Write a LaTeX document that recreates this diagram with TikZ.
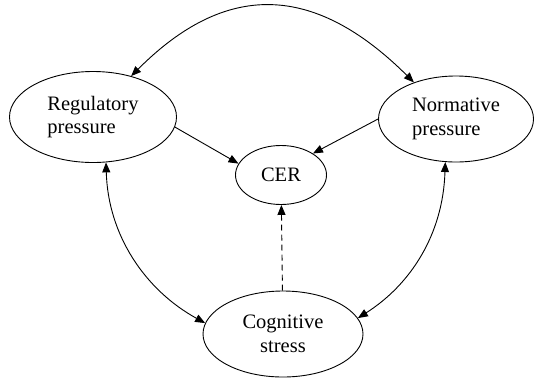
\documentclass[tikz,border=0pt]{standalone}
\usepackage{fontspec}
\setmainfont{Liberation Serif}
\usetikzlibrary{shapes.geometric,arrows.meta}

\begin{document}
\begin{tikzpicture}[x=1pt, y=1pt,
  oval/.style={ellipse, draw, line width=0.9pt, inner sep=0pt, font=\fontsize{20.5}{23.5}\selectfont},
  link/.style={line width=0.9pt, -{Triangle[length=10pt,width=8pt]}},
  mutual/.style={line width=0.9pt, {Triangle[length=10pt,width=8pt]}-{Triangle[length=10pt,width=8pt]}}]
  \useasboundingbox (0,0) rectangle (534,-378);
  \node[oval, minimum width=167pt, minimum height=91pt, align=left] (R) at (93,-117) {Regulatory\\pressure};
  \node[oval, minimum width=155pt, minimum height=86pt, align=left] (N) at (456,-119) {Normative\\pressure};
  \node[oval, minimum width=91pt, minimum height=59pt] (C) at (281,-175) {CER};
  \node[oval, minimum width=160pt, minimum height=86pt, align=center] (S) at (283,-334) {Cognitive\\stress};
  \draw[link] (R.353) -- (C.165);
  \draw[link] (N.180) -- (C.34);
  \draw[link, dash pattern=on 6pt off 4pt] (S) -- (C);
  \draw[mutual] (R.47) .. controls (225,18) and (313,18) .. (N.139);
  \draw[mutual] (R.286) .. controls (108,-235) and (145,-290) .. (S.172);
  \draw[mutual] (N.256) .. controls (443,-235) and (410,-285) .. (S.12);
\end{tikzpicture}
\end{document}
